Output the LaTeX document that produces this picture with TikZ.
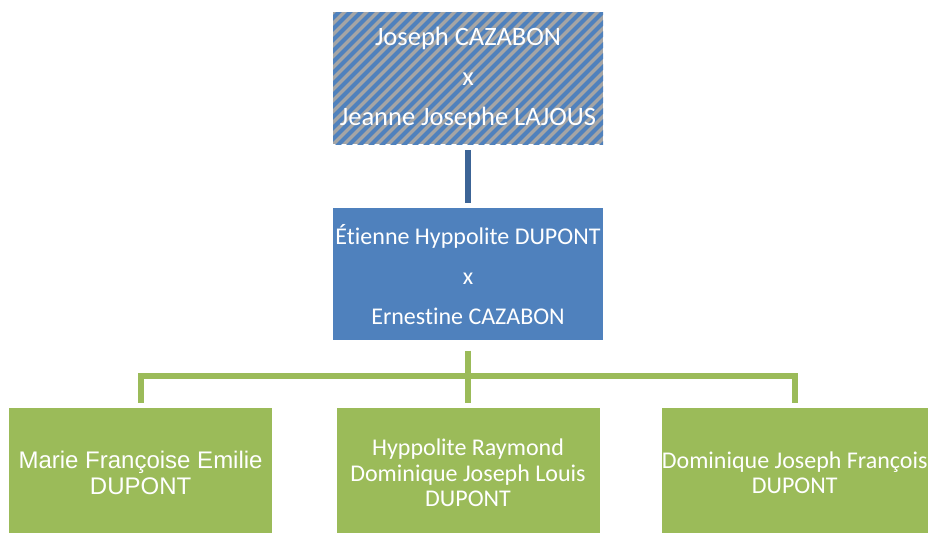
\documentclass[tikz,border=0pt]{standalone}
\usepackage{fontspec}
\setmainfont{Carlito}[Ligatures=NoCommon]
\newfontfamily\arialfont{Liberation Sans}
\usetikzlibrary{positioning}
\definecolor{boxblue}{RGB}{79,129,189}
\definecolor{boxgray}{RGB}{165,165,165}
\definecolor{linkblue}{RGB}{60,100,150}
\definecolor{boxgreen}{RGB}{155,187,89}

\begin{document}
\begin{tikzpicture}[x=1pt,y=-1pt,
  couple/.style={minimum width=270pt,minimum height=132pt,inner sep=0pt,
    text=white,align=center,font=\fontsize{24}{40}\selectfont},
  kid/.style={fill=boxgreen,minimum width=263pt,minimum height=130pt,
    inner sep=0pt,text=white,align=center,font=\fontsize{24}{25.5}\selectfont},
  bluelink/.style={draw=linkblue,line width=5.5pt},
  greenlink/.style={draw=boxgreen,line width=6pt}]
  \useasboundingbox
    (0,0)
    rectangle
    (930,533);
% striped box of the grand-parents
\begin{scope}
  \clip
    (333,12)
    rectangle
    (603,144);
  \fill[fill=boxgray]
    (333,12)
    rectangle
    (603,144);
  \foreach \s in {190,201,...,620}
    \draw[boxblue,line width=4pt]
      (\s,150)
      --
      ++(144,-144);
\end{scope}
  \node[couple,font=\fontsize{26.5}{40}\selectfont] (gp)
    at (468,78)
    {Joseph CAZABON\\x\\Jeanne Josephe LAJOUS};
  \node[couple,fill=boxblue,below=64pt of gp] (par)
    {\'Etienne Hyppolite DUPONT\\x\\Ernestine CAZABON};
  \node[kid,below=67pt of par] (kidb)
    {Hyppolite Raymond\\Dominique Joseph Louis\\DUPONT};
  \node[kid,left=64pt of kidb,font=\arialfont\fontsize{24}{25.5}\selectfont] (kida)
    {Marie Fran\c{c}oise Emilie\\DUPONT};
  \node[kid,right=62pt of kidb] (kidc)
    {Dominique Joseph Fran\c{c}ois\\DUPONT};
  \coordinate (bar) at (468,376);
  \draw[bluelink]
    ([yshift=-6pt]gp.south)
    --
    ([yshift=5pt]par.north);
  \draw[greenlink]
    ([yshift=-10pt]par.south)
    --
    ([yshift=5pt]kidb.north);
  \draw[greenlink]
    ([yshift=5pt]kida.north)
    |- (bar)
    -| ([yshift=5pt]kidc.north);
\end{tikzpicture}
\end{document}
